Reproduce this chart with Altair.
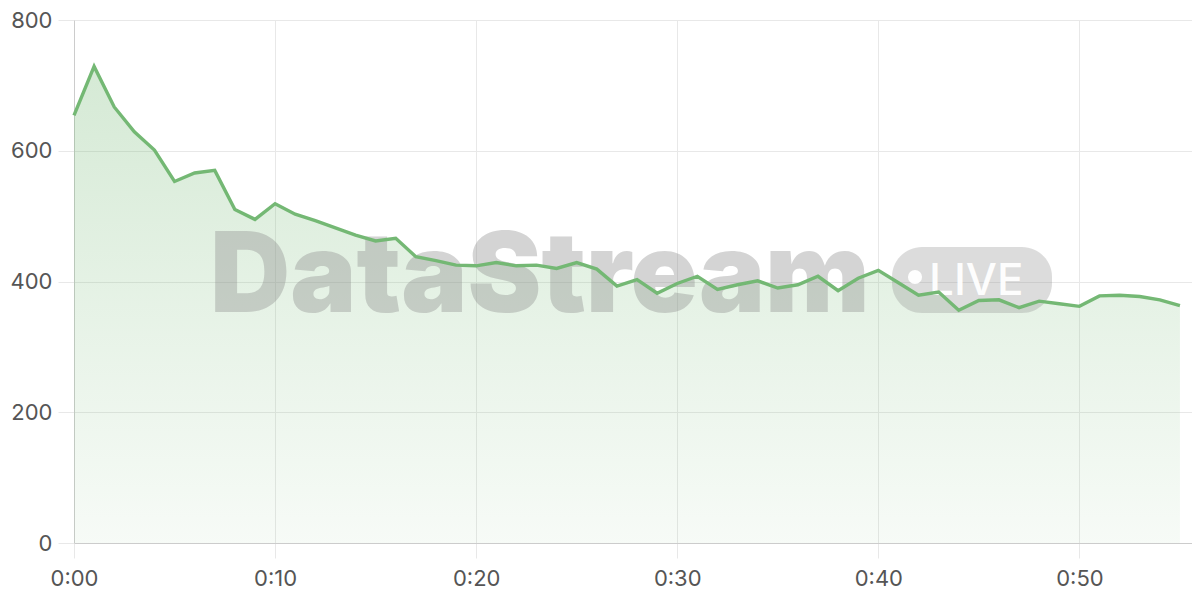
import altair as alt
import pandas as pd

minutes = list(range(56))
values = [654, 729, 667, 629, 601, 553, 566, 570, 510, 495,
          519, 503, 493, 482, 471, 462, 466, 438, 432, 425,
          424, 429, 424, 425, 420, 429, 419, 393, 403, 382,
          397, 408, 388, 395, 401, 390, 395, 408, 386, 405,
          417, 398, 379, 384, 356, 371, 372, 360, 370, 366,
          362, 378, 379, 377, 372, 363]
x_ticks = [0, 10, 20, 30, 40, 50]
y_ticks = [0, 200, 400, 600, 800]

df = pd.DataFrame({"minute": minutes, "value": values})

W, H = 1118, 523
FONT = "Inter"
GREEN = "#74b874"

x_enc = alt.X("minute:Q",
              scale=alt.Scale(domain=[0, 55.6], nice=False, zero=False),
              axis=alt.Axis(values=x_ticks, title=None, labelFlush=False,
                            labelExpr="'0:' + (datum.value < 10 ? '0' : '') + datum.value",
                            grid=True, gridColor="#e8e8e8", domainColor="#cccccc",
                            tickColor="#e8e8e8", tickSize=15, labelPadding=10,
                            labelFontSize=22, labelColor="#555555", labelFont=FONT))
y_enc = alt.Y("value:Q",
              scale=alt.Scale(domain=[0, 800], nice=False),
              axis=alt.Axis(values=y_ticks, title=None, labelFlush=False,
                            grid=True, gridColor="#e8e8e8", domainColor="#cccccc",
                            tickColor="#e8e8e8", tickSize=16, labelPadding=6,
                            labelFontSize=22, labelColor="#555555", labelFont=FONT))

base = alt.Chart(df)

grid = base.mark_line(opacity=0).encode(x=x_enc, y=y_enc)

wm_text = alt.Chart(pd.DataFrame({"t": ["DataStream"]})).mark_text(
    font=FONT, fontSize=111, fontWeight=900, color="#8a8a8a", opacity=0.36,
    align="left", baseline="alphabetic"
).encode(x=alt.value(136), y=alt.value(292), text="t:N")

pill = alt.Chart(pd.DataFrame({"a": [1]})).mark_rect(
    color="#8a8a8a", opacity=0.3, cornerRadius=30
).encode(x=alt.value(818), x2=alt.value(978), y=alt.value(227), y2=alt.value(293))

dot = alt.Chart(pd.DataFrame({"a": [1]})).mark_circle(
    color="white", opacity=0.95, size=200
).encode(x=alt.value(841), y=alt.value(257))

live = alt.Chart(pd.DataFrame({"t": ["LIVE"]})).mark_text(
    font=FONT, fontSize=44, fontWeight=500, color="white", opacity=0.95,
    align="left", baseline="alphabetic"
).encode(x=alt.value(855), y=alt.value(275), text="t:N")

area = base.mark_area(
    color=alt.Gradient(
        gradient="linear",
        stops=[alt.GradientStop(color="rgba(116,184,116,0.30)", offset=0),
               alt.GradientStop(color="rgba(116,184,116,0.06)", offset=1)],
        x1=1, x2=1, y1=0, y2=1)
).encode(x=x_enc, y=y_enc)

line = base.mark_line(color=GREEN, strokeWidth=3.4).encode(x=x_enc, y=y_enc)

chart = alt.layer(grid, area, wm_text, pill, dot, live, line).properties(
    width=W, height=H,
    autosize=alt.AutoSizeParams(type="none"),
    padding={"left": 66, "top": 12, "right": 0, "bottom": 60}
).configure_view(stroke=None)

chart.save("out.html", embed_options={"renderer": "svg", "actions": False})
